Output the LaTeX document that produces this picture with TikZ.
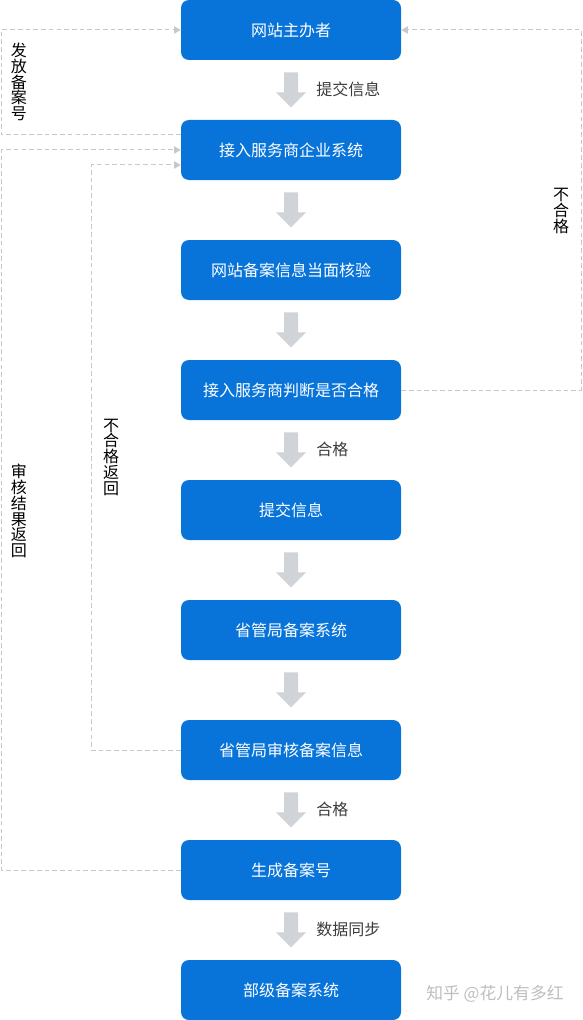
\documentclass[tikz,border=0pt]{standalone}
\usepackage{fontspec}
\setmainfont{Noto Sans CJK SC}
\usetikzlibrary{arrows.meta,calc}
\definecolor{boxblue}{RGB}{8,116,218}
\definecolor{blockgray}{RGB}{208,211,216}
\definecolor{dashgray}{RGB}{200,200,200}
\definecolor{labelgray}{RGB}{60,60,60}
\definecolor{wmgray}{RGB}{190,190,190}
\tikzset{
  stepbox/.style={draw=none,fill=boxblue,rounded corners=6pt,minimum width=165pt,minimum height=45pt,inner sep=0pt,text=white,font=\fontsize{12}{14}\selectfont},
  arrlabel/.style={anchor=west,inner sep=0pt,text=labelgray,font=\fontsize{12}{14}\selectfont},
  vlabel/.style={align=center,inner sep=0pt,text=black,font=\fontsize{12}{11.8}\selectfont},
  dl/.style={draw=dashgray,line width=0.75pt,dash pattern=on 3.5pt off 2.3pt,-{Triangle[length=5pt,width=5.5pt,fill=dashgray,sep=0pt]}},
}
\newcommand{\blockarrow}[1]{%
  \fill[blockgray] ($(#1.south)+(-7,12)$) -- ($(#1.south)+(7,12)$) -- ($(#1.south)+(7,32)$) -- ($(#1.south)+(15,32)$) -- ($(#1.south)+(0,47)$) -- ($(#1.south)+(-15,32)$) -- ($(#1.south)+(-7,32)$) -- cycle;}
\begin{document}
\begin{tikzpicture}[x=0.75pt,y=-0.75pt]
\useasboundingbox (0,0) rectangle (582,1020);
\node[stepbox] (b1) at (291,30) {网站主办者};
\node[stepbox] (b2) at (291,150) {接入服务商企业系统};
\node[stepbox] (b3) at (291,270) {网站备案信息当面核验};
\node[stepbox] (b4) at (291,390) {接入服务商判断是否合格};
\node[stepbox] (b5) at (291,510) {提交信息};
\node[stepbox] (b6) at (291,630) {省管局备案系统};
\node[stepbox] (b7) at (291,750) {省管局审核备案信息};
\node[stepbox] (b8) at (291,870) {生成备案号};
\node[stepbox] (b9) at (291,990) {部级备案系统};
\foreach \b in {b1,b2,b3,b4,b5,b6,b7,b8} {\blockarrow{\b}}
\node[arrlabel] (t1) at ($(b1.south)+(25,29)$) {提交信息};
\node[arrlabel] (t4) at ($(b4.south)+(25,29)$) {合格};
\node[arrlabel] (t7) at ($(b7.south)+(25,29)$) {合格};
\node[arrlabel] (t8) at ($(b8.south)+(25,29)$) {数据同步};
\coordinate (xl) at (1,0);
\coordinate (xm) at (91,0);
\coordinate (xr) at (581,0);
\draw[dl] ($(b2.west)+(0,-15)$) -| (xl |- b1.west) -- (b1.west);
\draw[dl] (b8.west) -| (xl |- b2.west) -- (b2.west);
\draw[dl] (b7.west) -| ($(xm |- b2.west)+(0,15)$) -- ($(b2.west)+(0,15)$);
\draw[dl] (b4.east) -| (xr |- b1.east) -- (b1.east);
\node[vlabel] (v1) at (19,82) {发\\放\\备\\案\\号};
\node[vlabel] (v2) at (19,511) {审\\核\\结\\果\\返\\回};
\node[vlabel] (v3) at (111,457) {不\\合\\格\\返\\回};
\node[vlabel] (v4) at (561,211) {不\\合\\格};
\node[inner sep=0pt,text=wmgray,font=\fontsize{12.6}{14}\selectfont] (wm) at (495,994) {知乎 @花儿有多红};
\end{tikzpicture}
\end{document}
